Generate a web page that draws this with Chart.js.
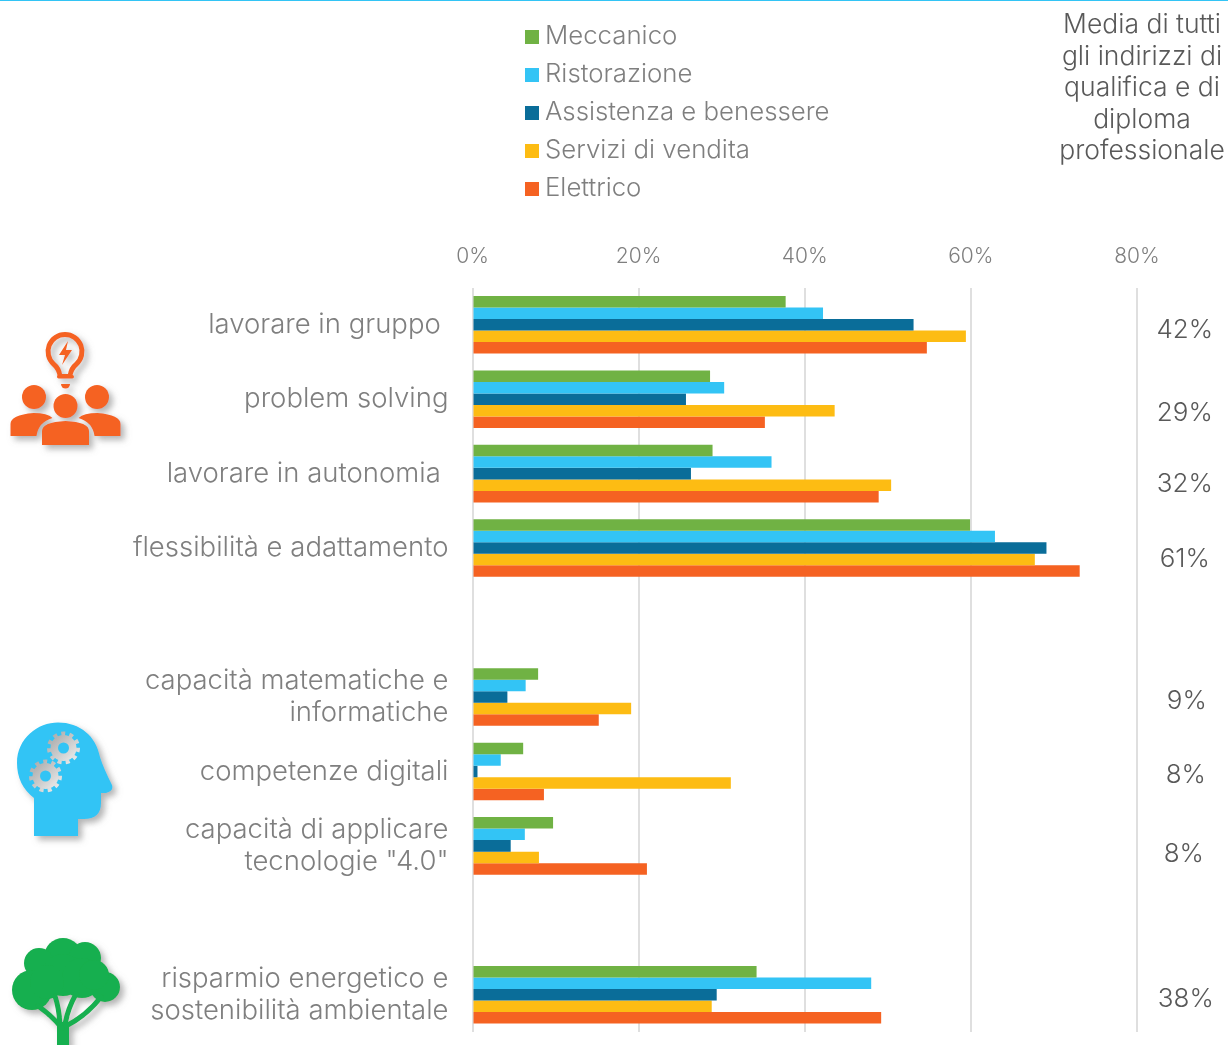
<!DOCTYPE html>
<html>
<head>
<meta charset="utf-8">
<script src="https://cdn.jsdelivr.net/npm/chart.js@4/dist/chart.umd.min.js"></script>
<style>
  html, body { margin: 0; padding: 0; background: #fff; }
  #wrap { position: relative; width: 1228px; height: 1045px; overflow: hidden; font-family: Inter, sans-serif; font-weight: 300; color: #7f7f7f; }
  #topline { position: absolute; left: 0; top: 0; width: 1228px; height: 1px; background: #33c4f5; }
  #legend { position: absolute; left: 525px; top: 16px; font-size: 25.8px; }
  #legend div { height: 38px; line-height: 38px; white-space: nowrap; }
  #legend i { display: inline-block; width: 14px; height: 14px; margin-right: 6px; }
  #note { position: absolute; left: 1047px; top: 8px; width: 190px; text-align: center; font-size: 26.5px; line-height: 31.5px; color: #595959; }
  svg { position: absolute; left: 0; top: 0; }
</style>
</head>
<body>
<div id="wrap">
  <canvas id="chart" width="1228" height="1045"></canvas>
  <div id="topline"></div>
  <div id="legend"></div>
  <div id="note">Media di tutti<br>gli indirizzi di<br>qualifica e di<br>diploma<br>professionale</div>
</div>
<script>
const categories = [
  'lavorare in gruppo ', 'problem solving', 'lavorare in autonomia ', 'flessibilità e adattamento', '',
  ['capacità matematiche e', 'informatiche'], 'competenze digitali', ['capacità di applicare', 'tecnologie "4.0"'], '',
  ['risparmio energetico e', 'sostenibilità ambientale']
]
const meccanico = [37.7, 28.6, 28.9, 59.9, null, 7.9, 6.1, 9.7, null, 34.2]
const ristorazione = [42.2, 30.3, 36.0, 62.9, null, 6.4, 3.4, 6.3, null, 48.0]
const assistenza = [53.1, 25.7, 26.3, 69.1, null, 4.2, 0.6, 4.6, null, 29.4]
const vendita = [59.4, 43.6, 50.4, 67.7, null, 19.1, 31.1, 8.0, null, 28.8]
const elettrico = [54.7, 35.2, 48.9, 73.1, null, 15.2, 8.6, 21.0, null, 49.2]
const media = ['42%', '29%', '32%', '61%', '', '9%', '8%', '8%', '', '38%']
const xTicks = [0, 20, 40, 60, 80]

const FONT = 'Inter, sans-serif'
const GREY = '#7f7f7f'

// la colonna a destra non sta sulla griglia delle categorie, piccoli scarti a mano
const mediaNudgeY = [5, 14, 11, 11, 0, 4, 4, 8, 0, 4]
const mediaNudgeX = [-2, -2, -2, -2, 0, 0, -1, -3, 0, -1]

const mediaColumn = {
  id: 'mediaColumn',
  afterDraw(chart) {
    const { ctx, scales } = chart
    ctx.save()
    ctx.font = '300 26px ' + FONT
    ctx.fillStyle = '#595959'
    ctx.textAlign = 'center'
    ctx.textBaseline = 'middle'
    media.forEach((txt, i) => {
      ctx.fillText(txt, scales.x.getPixelForValue(86) + mediaNudgeX[i], scales.y.getPixelForValue(i) + mediaNudgeY[i])
    })
    ctx.restore()
  }
}

const chart = new Chart(document.getElementById('chart'), {
  type: 'bar',
  data: {
    labels: categories,
    datasets: [
      { label: 'Meccanico', data: meccanico, backgroundColor: '#70b244' },
      { label: 'Ristorazione', data: ristorazione, backgroundColor: '#33c4f5' },
      { label: 'Assistenza e benessere', data: assistenza, backgroundColor: '#0a6d99' },
      { label: 'Servizi di vendita', data: vendita, backgroundColor: '#fdbc13' },
      { label: 'Elettrico', data: elettrico, backgroundColor: '#f56222' }
    ]
  },
  options: {
    indexAxis: 'y',
    responsive: false,
    animation: false,
    layout: { padding: { top: 0, left: 0, right: 91, bottom: 13 } },
    datasets: { bar: { categoryPercentage: 0.773, barPercentage: 1 } },
    plugins: { legend: { display: false }, tooltip: { enabled: false } },
    scales: {
      x: {
        position: 'top',
        min: 0,
        max: 80,
        afterFit(scale) { scale.height = 287.5 },
        afterBuildTicks(scale) { scale.ticks = xTicks.map(value => ({ value })) },
        grid: { color: '#dfdfdf', lineWidth: 2, drawTicks: false },
        border: { display: false },
        ticks: {
          padding: 18,
          maxRotation: 0,
          color: GREY,
          font: { family: FONT, size: 21, weight: '300' },
          callback: v => v + '%'
        }
      },
      y: {
        afterFit(scale) {
          scale.width = 472.5
          // le etichette su due righe non devono stringere l'area del grafico
          scale.paddingTop = 0
          scale.paddingBottom = 0
        },
        grid: { display: false, drawTicks: false },
        border: { display: false },
        ticks: {
          padding: 24,
          autoSkip: false,
          color: GREY,
          font: { family: FONT, size: 27.5, weight: '300', lineHeight: 1.164 }
        }
      }
    }
  },
  plugins: [mediaColumn]
})

// legenda verticale
const legendBox = document.getElementById('legend')
chart.data.datasets.forEach(ds => {
  const row = document.createElement('div')
  const sw = document.createElement('i')
  sw.style.background = ds.backgroundColor
  row.appendChild(sw)
  row.appendChild(document.createTextNode(ds.label))
  legendBox.appendChild(row)
})

// icone
const wrap = document.getElementById('wrap')
wrap.insertAdjacentHTML('beforeend', `
<svg width="1228" height="1045" viewBox="0 0 1228 1045">
  <defs>
    <filter id="sh" x="-20%" y="-20%" width="150%" height="150%"><feDropShadow dx="4" dy="4" stdDeviation="3" flood-color="#777" flood-opacity="0.55"/></filter>
    <linearGradient id="gear" x1="0" y1="0" x2="1" y2="1"><stop offset="0" stop-color="#a8a8a8"/><stop offset="1" stop-color="#eeeeee"/></linearGradient>
  </defs>
  <g filter="url(#sh)" fill="#f56222">
    <path d="M65 332 a19.5 19.5 0 0 1 13 34 q-5 4 -6 12 h-14 q-1 -8 -6 -12 a19.5 19.5 0 0 1 13 -34z M65 337 a14.500 14.500 0 0 0 -10 25 q6 5 7 12 h6 q1 -7 7 -12 a14.500 14.500 0 0 0 -10 -25z" fill-rule="evenodd"/>
    <path d="M68 341 l-9 14 h6 l-3 10 l10 -15 h-6z"/>
    <rect x="57" y="375" width="17" height="3.500" rx="1.700"/>
    <path d="M61 384 h9 a4.500 4.500 0 0 1 -9 0z"/>
    <circle cx="34" cy="397" r="12"/>
    <circle cx="97" cy="397" r="12"/>
    <circle cx="65.500" cy="406" r="12"/>
    <path d="M10.500 436 v-12 q0 -9 23 -11 q14 0 19 5 q-14 4 -16 18z"/>
    <path d="M120.500 436 v-12 q0 -9 -23 -11 q-14 0 -19 5 q14 4 16 18z"/>
    <path d="M42 445 v-14 q0 -9 23.500 -10 q23.500 1 23.500 10 v14z"/>
  </g>
  <g filter="url(#sh)">
    <path fill="#33c4f5" d="M34 836 V798 Q17 785 17 763 C17 738 38 722.500 58 722.500 C80 722.500 96 736 100 757 Q103 767 112 785 Q114 791 106 793 H101 V803 Q101 819 84 819 H78 V836 Z"/>
  </g>
  <g fill="url(#gear)">
    <circle cx="63.500" cy="748" r="13"/><circle cx="45.500" cy="776" r="13"/>
    <g stroke="url(#gear)" stroke-width="4" stroke-dasharray="4 4.200" fill="none"><circle cx="63.500" cy="748" r="14.500"/><circle cx="45.500" cy="776" r="14.500"/></g>
  </g>
  <circle cx="63.500" cy="748" r="5.500" fill="#33c4f5"/><circle cx="45.500" cy="776" r="5.500" fill="#33c4f5"/>
  <g filter="url(#sh)">
    <g fill="#15af4f">
      <circle cx="63" cy="957" r="19"/><circle cx="39" cy="963" r="15"/><circle cx="85" cy="958" r="16"/>
      <circle cx="32" cy="990" r="20"/><circle cx="105" cy="987" r="15"/>
      <circle cx="63" cy="975" r="21"/><circle cx="82" cy="978" r="20"/><circle cx="47" cy="982" r="17"/><circle cx="94" cy="975" r="15"/>
      <rect x="57" y="1022" width="12" height="25"/>
    </g>
    <g fill="none" stroke="#15af4f" stroke-width="5" stroke-linecap="round">
      <path d="M62 1028 Q50 1014 38 1006"/>
      <path d="M60 1024 Q59 1008 55 996"/>
      <path d="M65 1024 Q68 1008 76 994"/>
      <path d="M66 1026 Q86 1016 101 997"/>
    </g>
  </g>
</svg>`)
</script>
</body>
</html>
